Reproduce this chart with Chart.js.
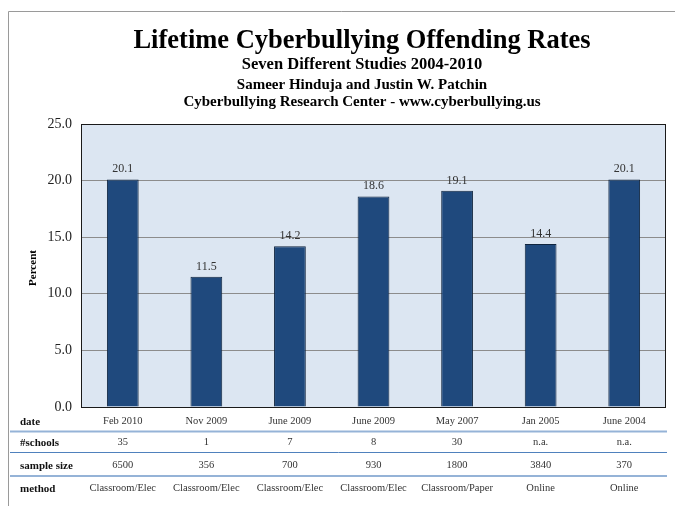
<!DOCTYPE html>
<html><head><meta charset="utf-8">
<script src="https://cdn.jsdelivr.net/npm/chart.js@4/dist/chart.umd.min.js"></script>
<style>html,body{margin:0;padding:0;background:#fff}#wrap{width:675px;height:506px;position:relative}</style>
</head><body><div id="wrap"><canvas id="c" width="675" height="506"></canvas></div>
<script>
const titleText = "Lifetime Cyberbullying Offending Rates";
const subtitleLines = ["Seven Different Studies 2004-2010", "Sameer Hinduja and Justin W. Patchin", "Cyberbullying Research Center - www.cyberbullying.us"];
const dates = ["Feb 2010", "Nov 2009", "June 2009", "June 2009", "May 2007", "Jan 2005", "June 2004"];
const rates = [20.1, 11.5, 14.2, 18.6, 19.1, 14.4, 20.1];
const schools = ["35", "1", "7", "8", "30", "n.a.", "n.a."];
const sampleSizes = ["6500", "356", "700", "930", "1800", "3840", "370"];
const methods = ["Classroom/Elec", "Classroom/Elec", "Classroom/Elec", "Classroom/Elec", "Classroom/Paper", "Online", "Online"];
const rowLabels = ["date", "#schools", "sample size", "method"];
const yTicks = [0, 5, 10, 15, 20, 25];

const SERIF = '"Liberation Serif", "DejaVu Serif", serif';

const decor = {
  id: 'decor',
  beforeDraw(chart) {
    const ctx = chart.ctx, a = chart.chartArea;
    ctx.save();
    ctx.fillStyle = '#fff';
    ctx.fillRect(0, 0, chart.width, chart.height);
    // outer frame
    ctx.strokeStyle = '#9a9a9a';
    ctx.lineWidth = 1;
    ctx.beginPath();
    ctx.moveTo(8.5, 506); ctx.lineTo(8.5, 11.5); ctx.lineTo(675, 11.5);
    ctx.stroke();
    // plot background
    ctx.fillStyle = '#dce6f2';
    ctx.fillRect(a.left, a.top, a.right - a.left, a.bottom - a.top);
    ctx.restore();
  },
  afterDatasetsDraw(chart) {
    const ctx = chart.ctx, a = chart.chartArea;
    const xs = chart.scales.x;
    ctx.save();
    // plot border
    ctx.strokeStyle = '#1a1a1a';
    ctx.lineWidth = 1;
    ctx.strokeRect(a.left + 0.5, a.top + 0.5, a.right - a.left - 1, a.bottom - a.top);
    // value labels
    ctx.fillStyle = '#333';
    ctx.font = '12px ' + SERIF;
    ctx.textAlign = 'center';
    ctx.textBaseline = 'alphabetic';
    chart.getDatasetMeta(0).data.forEach((bar, i) => {
      ctx.fillText(rates[i].toFixed(1), bar.x, bar.y - 7);
    });
    // titles
    ctx.fillStyle = '#000';
    ctx.textBaseline = 'alphabetic';
    ctx.font = 'bold 26.5px ' + SERIF;
    ctx.fillText(titleText, 362, 48);
    ctx.font = 'bold 16.5px ' + SERIF;
    ctx.fillText(subtitleLines[0], 362, 69);
    ctx.font = 'bold 15px ' + SERIF;
    ctx.fillText(subtitleLines[1], 362, 89);
    ctx.fillText(subtitleLines[2], 362, 106);
    // y axis title
    ctx.save();
    ctx.translate(36, 268);
    ctx.rotate(-Math.PI / 2);
    ctx.font = 'bold 11px ' + SERIF;
    ctx.fillText('Percent', 0, 0);
    ctx.restore();
    // table
    ctx.textBaseline = 'middle';
    const rows = [dates, schools, sampleSizes, methods];
    const rowY = [421, 442, 465, 488];
    rows.forEach((row, r) => {
      ctx.font = 'bold 11px ' + SERIF;
      ctx.textAlign = 'left';
      ctx.fillStyle = '#111';
      ctx.fillText(rowLabels[r], 20, rowY[r] + 1);
      ctx.font = '10.5px ' + SERIF;
      ctx.textAlign = 'center';
      ctx.fillStyle = '#333';
      row.forEach((v, i) => ctx.fillText(v, xs.getPixelForValue(i), rowY[r]));
    });
    // separators
    const seps = [[431.5, '#95b3d7', 2], [452.5, '#4f81bd', 1], [476, '#95b3d7', 2]];
    seps.forEach(([y, c, w]) => {
      ctx.strokeStyle = c; ctx.lineWidth = w;
      ctx.beginPath(); ctx.moveTo(10, y); ctx.lineTo(667, y); ctx.stroke();
    });
    ctx.restore();
  }
};

new Chart(document.getElementById('c'), {
  type: 'bar',
  data: {
    labels: dates,
    datasets: [{
      data: rates,
      backgroundColor: '#1f497d',
      borderColor: '#10253f',
      borderWidth: 1,
      barPercentage: 0.38,
      categoryPercentage: 1.0
    }]
  },
  options: {
    responsive: false,
    animation: false,
    devicePixelRatio: 1,
    layout: { padding: { left: 0, top: 124, right: 9, bottom: 99 } },
    plugins: { legend: { display: false }, tooltip: { enabled: false } },
    scales: {
      x: { display: false },
      y: {
        min: 0, max: 25,
        afterFit(s) { s.width = 81; },
        afterBuildTicks(s) { s.ticks = yTicks.map(v => ({ value: v })); },
        grid: { color: '#8c8c8c', drawTicks: false, lineWidth: 1 },
        border: { display: false },
        ticks: {
          padding: 9,
          color: '#222',
          font: { family: SERIF, size: 14 },
          callback: v => v.toFixed(1)
        }
      }
    }
  },
  plugins: [decor]
});
</script>
</body></html>
